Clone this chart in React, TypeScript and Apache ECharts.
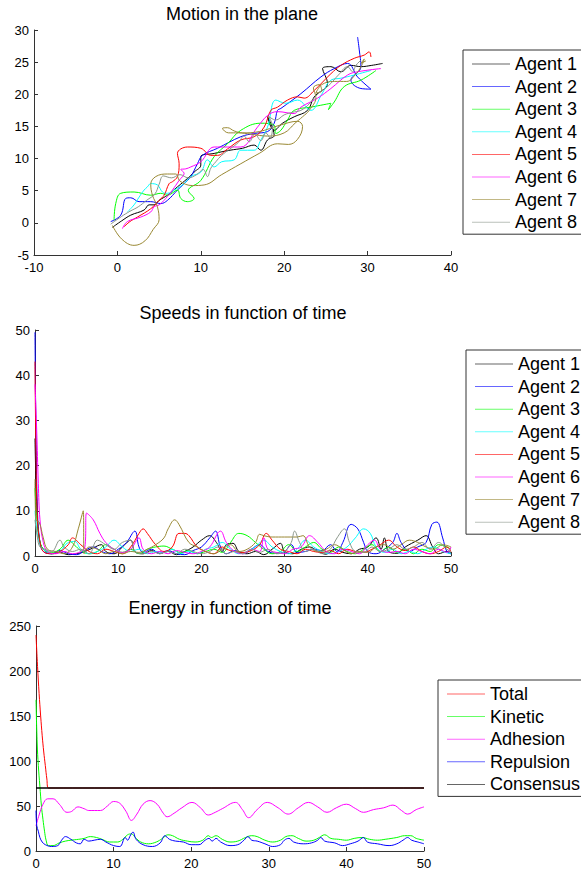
import React, { useEffect, useRef } from "react";
import * as echarts from "echarts";

const FONT = "Liberation Sans, Arial, Helvetica, sans-serif";

const AGENT_NAMES = ["Agent 1", "Agent 2", "Agent 3", "Agent 4", "Agent 5", "Agent 6", "Agent 7", "Agent 8"];
const AGENT_COLORS = ["#000000", "#0000ff", "#00ff00", "#00ffff", "#ff0000", "#ff00ff", "#998833", "#8a968a"];
const ENERGY_NAMES = ["Total", "Kinetic", "Adhesion", "Repulsion", "Consensus"];
const ENERGY_COLORS = ["#ff0000", "#00ff00", "#ff00ff", "#0000ff", "#000000"];

const PLANE_X_TICKS = [-10, 40, 10];
const PLANE_Y_TICKS = [-5, 30, 5];
const TIME_TICKS = [0, 50, 10];
const SPEED_TICKS = [0, 50, 10];
const ENERGY_TICKS = [0, 250, 50];

// Trajectories in the plane [x, y]
const PATH_1 = [[-0.6,-0.7],[0.5,0.3],[1.6,1.2],[3.2,2],[3.8,2.8],[4.4,2.8],[5,3.5],[6,4.3],[7.2,5.6],[8.4,6.9],[9.2,7.9],[10,9],[10,10.3],[11.6,10.8],[13.5,11.3],[15,11.6],[16.4,12.1],[17.2,11.3],[18,12.9],[18.8,13.6],[18,16.5],[18.8,14.4],[19.8,15.5],[21.2,16.5],[22.8,17.5],[23.6,19.6],[25.2,21.7],[24.6,24],[25.6,24.3],[26.8,23.5],[28,24.5],[29.2,24.3],[30.5,24.5],[31.8,24.8]];
const PATH_2 = [[-0.8,0.2],[0.4,1.2],[1,3.8],[1.6,3.9],[2.6,3.3],[4,3.3],[5.2,3],[6,3.5],[7.2,5.1],[8,6.1],[8.8,7.2],[9.6,9.2],[10.2,10.5],[12,11.6],[14.8,13.4],[16.4,13.9],[18,14.2],[18.8,15.5],[19.2,17.5],[19.6,17.8],[22,20.1],[24.4,22.7],[26,24],[27.6,24.8],[28.8,22.7],[30.4,20.8],[29.2,20.9],[28,22.2],[29.2,24.3],[29,26.9],[28.8,28.9]];
const PATH_3 = [[-0.4,0.4],[-0.2,3],[0.4,4.6],[2,4.8],[4,4.3],[5.2,4.6],[6,4.3],[7.2,5.1],[7.6,3.8],[8.4,3.3],[9.2,3.8],[8.5,5],[10,6.6],[11.6,10.3],[13.2,12.3],[14.8,14.4],[17.2,15.5],[18.8,15.2],[19,13.9],[19.6,14.4],[20.4,16],[21.2,17.5],[23.2,18],[25.6,18.6],[25.3,17.6],[26,18.8],[27.2,21.2],[29.2,22.2],[31,23.7]];
const PATH_4 = [[1.2,1.7],[2,2.8],[2.6,4],[3.2,5.1],[3.6,5.6],[4,6.1],[4.8,5.9],[5.4,4.8],[6,4.6],[6.8,5.1],[8,6.1],[8.8,7.2],[10,7.9],[10.8,9.8],[11.6,8.7],[12.5,9.5],[14,9.8],[14.8,11.3],[16.4,11.3],[17.2,12.9],[18,14.9],[19,19.1],[20.2,18.6],[21.6,19.1],[23.2,17.5],[24.5,20],[25.6,22.2],[26.8,22.5],[28.4,23],[30.4,23.7]];
const PATH_5 = [[0.8,-0.6],[1.5,0.2],[2.4,0.9],[4,2.2],[5,3.5],[5.6,4.3],[6.2,6.1],[6.6,6.4],[7.2,7.2],[7.4,9.2],[7.2,10.8],[8.4,11.8],[10,11.6],[11.2,10.5],[12,10.5],[13.2,11.5],[14.8,12.9],[16.4,13.4],[17.6,14.9],[18.4,17.5],[19.2,18],[20.4,19.1],[21.6,19.6],[22.4,19.4],[23.6,20.6],[25.6,23.2],[26.8,24.5],[28.4,25.6],[29.6,26.1],[30.2,26.6],[30.4,25.8]];
const PATH_6 = [[0.6,-0.9],[1.2,0.2],[2.8,0.9],[4,1.7],[4.4,2.5],[5,2.8],[5.8,3.8],[6.6,5.1],[7.4,6.6],[8,7.7],[7.6,8.3],[8.2,8.4],[8.8,8.7],[10,9.5],[11.6,11.8],[13.2,11.8],[14.8,11.8],[16.8,14.9],[18,16.7],[19.2,17.3],[21.2,17],[22,18],[24,19.4],[25.6,20.9],[27.6,23],[28.8,23.5],[31.6,24]];
const PATH_7 = [[-0.6,-0.4],[0.5,-2.5],[2,-3.5],[3.3,-2.8],[4.3,-1],[5,0.5],[4.8,2.5],[4.2,4.3],[4,6],[4.6,7.2],[6,7.6],[7,7.6],[7.5,6.5],[9,5.8],[10.4,5.9],[12.5,7.5],[14.8,9.2],[17,10.8],[19.2,12.3],[20.5,12.2],[21.6,13],[22.2,15],[21.6,15.8],[19.5,15.2],[17,14.2],[15,14],[14,14.3],[13.2,14.8],[12.6,14.7],[13.3,14],[14.5,14],[16,13.8],[18,13.5],[20,14],[21.3,15.5],[22.2,16.5],[23,17.5],[23.8,19.5],[23.5,21],[24.2,21.5],[24.5,20.5],[23.8,20.2],[24.5,21.5],[26,22],[27.5,22],[28.5,23],[29.3,24.5],[29.6,25.5],[29.2,24.8],[29.8,25.2]];
const PATH_8 = [[-0.8,-0.2],[0.5,1],[1.5,1.8],[2.5,2.5],[3.5,3.5],[4.5,4.5],[5,6],[5.5,7.3],[6.5,7],[7.5,7.5],[8.5,7],[9.5,7.5],[10.3,8.3],[10.8,7.2],[11.2,8.5],[11.8,9.5],[12.5,10.5],[13.5,11.5],[14.5,12.5],[15.2,13.5],[15.8,12.6],[16.5,13.8],[17.2,12.8],[17.8,14],[18.3,13.2],[18.6,15],[18.1,16.6],[19,16],[20,16.8],[21,17.2],[22,17.5],[23,18.5],[24,20],[25,21],[25.6,21.7],[26.5,23],[27.6,24.3],[28.2,23.5],[28.6,24.5],[29.2,25.3]];
const PATHS = [PATH_1, PATH_2, PATH_3, PATH_4, PATH_5, PATH_6, PATH_7, PATH_8];

// Speeds [t, v]
const SPEED_1 = [[0,26],[0.2,12],[0.5,4],[1,1.5],[2,0.5],[3,0.8],[4,0.3],[5,0.5],[6,1],[7,1.8],[8,2.5],[8.5,1],[9.5,0.5],[10.5,2],[11.5,3.5],[12,1],[13,0.5],[14,1.2],[15,0.6],[16,1],[17,0.3],[18,1],[19,2],[20,3.5],[21,4.5],[21.8,3],[22.5,1],[23,2.5],[23.8,2.8],[24.5,1],[25.5,0.5],[26.5,1],[27.5,0.3],[28.5,1.5],[29.5,2.8],[30,1],[31,0.5],[32,1.5],[33,2],[34,1],[35,0.4],[36,1.5],[37,0.8],[38,0.5],[39,1.5],[40,2],[41,4],[41.6,1.5],[42,4],[42.5,1],[43.5,0.6],[44.5,2],[46,3.5],[47,4.5],[47.8,2],[48.5,0.5],[49.5,1],[50,0.8]];
const SPEED_2 = [[0,49.5],[0.1,30],[0.3,10],[0.6,3],[1,1],[2,0.5],[3,1.2],[4,0.5],[5,0.3],[6,1.2],[7,2],[8,1],[9,0.5],[10,1.5],[11,3],[12,5.5],[12.5,2],[13,0.8],[14,1.5],[15,0.5],[16,1.2],[17,0.5],[18,0.3],[19,1.2],[20,2],[21,4],[21.7,5.5],[22.3,2],[23,0.5],[24,1.2],[25,0.5],[26,1.5],[27,2.5],[28,1],[29,0.6],[30,1],[30.8,2.5],[31.5,0.8],[32.5,1],[33.5,1.5],[34.5,1.2],[35.5,2.5],[36.3,1],[37,3],[38,7],[38.8,6],[39.5,3],[40,1],[41,0.5],[42,1.5],[43,3],[43.5,5],[44,3],[45,1],[46,2],[47,3],[47.7,7],[48.3,7.5],[49,4],[49.5,1],[50,0.5]];
const SPEED_3 = [[0,15],[0.2,9],[0.5,4],[1,1.5],[2,0.8],[3,1.5],[4,3.5],[4.7,2.5],[5.5,1.2],[6.5,0.5],[7.5,1],[8.5,2.5],[9.5,1.5],[10.5,0.8],[11.5,1.5],[12.5,0.5],[13.5,1.5],[14.5,2],[15.5,2.2],[16.5,1.5],[17.5,0.8],[18.5,1.2],[19.5,0.5],[20.5,1],[21.5,1.5],[22.5,0.8],[23.5,3],[24.5,5],[25.5,4.5],[26.5,3],[27.5,1.5],[28.5,0.5],[29.5,1],[30.5,2.5],[31.5,1],[32.5,2],[33.5,3],[34.5,1.5],[35.5,0.8],[36.5,2],[37.5,1],[38.5,0.5],[39.5,1.5],[40.5,2.5],[41.5,1],[42.5,2],[43.5,0.8],[44.5,1.5],[45.5,0.5],[46.5,1.5],[47.5,1],[48.5,2.5],[49.5,2],[50,1.5]];
const SPEED_4 = [[0,10],[0.2,6],[0.5,3],[1,1.5],[2,0.5],[3,1],[4,3],[4.8,3.2],[5.5,1.5],[6.5,0.5],[7.5,1],[8.5,2],[9.5,3.5],[10.5,2],[11.5,1],[12.5,1.5],[13.5,0.5],[14.5,1],[15.5,0.8],[16.5,1.5],[17.5,0.5],[18.5,1],[19.5,0.5],[20.5,1.5],[21.5,2],[22.5,3],[23.5,1.5],[24.5,0.5],[25.5,1],[26.5,2],[27.5,3.5],[28.5,2],[29.5,1],[30.5,0.5],[31.5,1.5],[32.5,3.5],[33.5,2],[34.5,1],[35.5,0.5],[36.5,1],[37.5,2],[38.5,4],[39.5,6],[40.3,5],[41,2],[42,0.8],[43,1.5],[44,0.5],[45,1],[46,0.5],[47,1.5],[48,2],[49,1],[50,0.5]];
const SPEED_5 = [[0,43],[0.1,25],[0.3,8],[0.6,3],[1,1],[2,0.5],[3,1],[4,2.5],[4.5,4],[5.5,2.5],[6.5,1],[7.5,0.5],[8.5,1.5],[9.5,1],[10.5,0.5],[11.5,2],[12.5,5],[13,6],[13.5,5],[14.5,2.5],[15.5,1],[16.5,2],[17.3,5],[18,5],[18.5,4.5],[19.5,2],[20.5,1],[21.5,0.5],[22.5,2],[23,1.5],[24,1],[25,0.8],[26,1.2],[27,2.5],[27.8,5],[28.5,3.5],[29.5,1.5],[30.5,1],[31.5,0.5],[32.5,1.5],[33.5,1],[34.5,0.8],[35.5,1.2],[36.5,0.5],[37.5,1.5],[38.5,1],[39.5,0.8],[40.5,1.5],[41.5,2.5],[42.5,3.5],[43.5,2],[44.5,1.2],[45.5,2],[46.5,1],[47.5,0.5],[48.5,1],[49.5,2],[50,1]];
const SPEED_6 = [[0,38],[0.2,28],[0.4,16],[0.6,8],[1,3],[1.5,1],[2.5,0.5],[3.5,1],[4.5,0.5],[5.5,1],[6,2],[6.2,9.5],[7,8],[7.8,5],[8.5,3],[9.5,1.5],[10.5,0.8],[11.5,1.5],[12.5,4],[13,1.5],[14,0.5],[15,1],[16,0.5],[17,1.2],[18,0.8],[19,0.5],[20,1],[21,2],[22.3,5.5],[23,3],[24,1],[25,0.5],[26,1.5],[27,1],[27.5,4],[28,1.5],[29,0.8],[30,0.5],[31,1.5],[32,2],[33,4.5],[34,3],[35,1],[36,0.5],[37,1.5],[38,1],[39,0.5],[40,2.5],[40.8,3.5],[41.5,1.5],[42.5,0.8],[43.5,1],[44.5,0.5],[45.5,1.5],[46.5,1],[47.5,0.5],[48.5,1.5],[49.5,0.8],[50,2]];
const SPEED_7 = [[0,17],[0.1,8],[0.5,7.5],[1,4],[1.5,1.5],[2.5,1],[3.5,0.5],[4.5,2],[5.2,6],[5.8,10],[5.9,0.5],[6.5,2],[7.5,1.5],[8.5,0.5],[9.5,1],[10.5,0.5],[11.5,1],[12.5,0.8],[13.5,1.5],[14.5,2.5],[15.5,4],[16,6],[16.8,8],[17.3,7],[18.5,3],[19.5,2],[20.5,1],[21.5,0.5],[22.5,1.5],[23.5,2.5],[24.5,1],[25.5,1.5],[26.5,3],[27,4.8],[27.5,4.5],[28.5,4.2],[30,4.2],[31.5,4.2],[32.2,4.5],[33,2],[34,1],[35,1.5],[36,2.5],[37,1.5],[38,0.5],[39,1],[40,0.8],[41,2],[42,2.5],[43,1.5],[44,2.5],[45,3.5],[46,3],[47,2],[48,1.5],[49,2.5],[50,2]];
const SPEED_8 = [[0,8],[0.3,4],[0.6,2],[1.2,1.5],[2,1],[3,3.5],[3.5,2],[4.5,1],[5.5,1.5],[6.5,0.5],[7.5,3.5],[8.5,2.5],[9.5,1.5],[10.5,3],[11.5,3.5],[12,1],[13,0.5],[14,1],[15,0.5],[16,1],[17,0.5],[18,1.5],[19,1],[20,0.5],[21,1],[22,2],[23,0.5],[24,1],[25,0.5],[26,1.5],[27,0.8],[28,1.5],[29,0.5],[30,1],[30.8,3],[31.2,5.5],[31.8,3],[32.5,1],[33.5,1.5],[34.5,0.5],[35.5,1.5],[36.3,4],[37.2,6],[37.8,3],[38.5,1],[39.5,0.8],[40.5,2],[41.5,1],[42.5,1.5],[43.5,2.5],[44.5,1.5],[45.5,2],[46.5,3],[47.5,1.5],[48.5,3],[49.5,1.5],[50,1]];
const SPEEDS = [SPEED_1, SPEED_2, SPEED_3, SPEED_4, SPEED_5, SPEED_6, SPEED_7, SPEED_8];

// Energies [t, E]
const ENERGY_TOTAL = [[0,240],[0.2,205],[0.4,175],[0.6,150],[0.8,128],[1.0,110],[1.2,95],[1.4,80],[1.6,70],[50,70]];
const ENERGY_KINETIC = [[0,168],[0.15,120],[0.3,95],[0.5,72],[0.7,50],[0.9,35],[1.1,22],[1.3,12],[1.6,6],[2.2,6],[3,9],[3.8,11],[4.5,12],[5.5,13],[6.2,14],[7,16],[7.8,15],[8.5,13],[9.5,10],[10.5,10],[11.2,13],[11.8,18],[12.3,19],[12.8,15],[13.5,10],[14.5,8],[15.5,10],[16.3,14],[17,18],[17.6,17],[18.5,13],[19.5,11],[20.5,10],[21.5,12],[22.2,17],[22.6,15],[23.2,17],[24,13],[25,10],[26,11],[27,15],[27.8,17],[28.5,16],[29.5,12],[30.5,10],[31.5,12],[32.2,16],[33,17],[33.8,14],[34.8,11],[35.8,12],[36.5,15],[37.2,18],[38,14],[39,13],[40,12],[41,14],[42,15],[43,13],[44,12],[45,13],[46.5,15],[47.5,17],[48.3,17],[49,14],[50,12]];
const ENERGY_ADHESION = [[0,28],[0.4,40],[0.9,52],[1.5,58],[2.2,58],[3,52],[4,43],[4.6,44],[5.4,49],[6.2,47],[6.8,45],[8.3,45],[9.2,50],[10,55],[10.8,53],[11.6,44],[12.3,34],[13,41],[13.8,52],[14.7,56],[15.6,52],[16.4,42],[16.9,38],[17.8,42],[18.8,48],[20.1,54],[21.2,48],[22.2,40],[23.1,43],[24,47],[25.7,54],[26.6,46],[27.4,37],[28.5,46],[29.8,54],[31.2,48],[32.5,41],[33.8,48],[35.1,54],[36.3,49],[37.5,43],[38.7,48],[40,52],[41.2,47],[42.2,43],[43.5,46],[44.8,48],[46,51],[47.1,45],[47.9,41],[49,46],[50,49]];
const ENERGY_REPULSION = [[0,45],[0.1,28],[0.3,22],[0.5,15],[0.8,10],[1.2,7],[2,5],[2.8,6],[3.3,12],[3.8,16],[4.5,13],[5.2,9],[5.7,8],[6.2,13],[6.8,11],[7.5,12],[8.3,13],[9,10],[10,6],[10.8,5],[11.5,15],[11.8,12],[12.2,18],[12.5,21],[12.9,13],[13.8,7],[15,5],[16,9],[16.6,17],[17.2,13],[18,11],[19,10],[20,7],[21,7],[21.8,12],[22.3,14],[22.7,11],[23.2,14],[23.8,10],[25,6],[26,7],[26.8,12],[27.3,16],[27.8,12],[28.5,11],[29.5,8],[30.5,5],[31.5,7],[32,12],[32.6,14],[33.2,10],[34.5,8],[35.5,9],[36.3,12],[36.7,15],[37.2,11],[38.5,9],[39.5,6],[40.5,8],[41.5,11],[42.2,15],[42.7,10],[44,8],[45.5,6],[46.5,8],[47.3,12],[47.9,15],[48.4,12],[49.2,10],[50,8]];
const ENERGY_CONSENSUS = [[0,70],[50,70]];
const ENERGIES = [ENERGY_TOTAL, ENERGY_KINETIC, ENERGY_ADHESION, ENERGY_REPULSION, ENERGY_CONSENSUS];

const axisLabel = { color: "#000", fontSize: 13, fontFamily: FONT };
const axisLine = { show: true, onZero: false, lineStyle: { color: "#333", width: 1 } };
const axisTick = { show: true, inside: true, length: 4, lineStyle: { color: "#333" } };

function valueAxis(gridIndex: number, ticks: number[], isX: boolean) {
  return {
    type: "value",
    gridIndex,
    min: ticks[0],
    max: ticks[1],
    interval: ticks[2],
    axisLine,
    axisTick,
    splitLine: { show: false },
    axisLabel: { ...axisLabel, margin: isX ? 6 : 5 },
  };
}

function legendOf(names: string[], left: number, top: number) {
  return {
    data: names.map((n) => ({ name: n, icon: "rect" })),
    orient: "vertical",
    left,
    top,
    itemWidth: 38,
    itemHeight: 1,
    itemGap: 4.6,
    padding: [5, 14, 3, 9],
    borderColor: "#333",
    borderWidth: 1,
    selectedMode: false,
    itemStyle: { opacity: 0.6 },
    textStyle: { fontSize: 18, fontFamily: FONT, color: "#000", lineHeight: 18 },
  };
}

function titleOf(text: string, left: number, top: number) {
  return {
    text,
    left,
    top,
    textAlign: "center",
    padding: 0,
    textStyle: { fontSize: 18, fontWeight: "normal", fontFamily: FONT, color: "#000" },
  };
}

export default function App() {
  const ref = useRef<HTMLDivElement>(null);
  useEffect(() => {
    if (!ref.current) return;
    const chart = echarts.init(ref.current, null, { renderer: "svg" });
    const series: any[] = [];
    PATHS.forEach((p, i) => {
      series.push({
        type: "line", name: AGENT_NAMES[i], xAxisIndex: 0, yAxisIndex: 0, data: p,
        symbol: "none", smooth: 0.4, lineStyle: { width: 1, color: AGENT_COLORS[i] }, itemStyle: { color: AGENT_COLORS[i] },
      });
    });
    SPEEDS.forEach((s, i) => {
      series.push({
        type: "line", name: AGENT_NAMES[i], xAxisIndex: 1, yAxisIndex: 1, data: s,
        symbol: "none", smooth: 0.4, lineStyle: { width: 1, color: AGENT_COLORS[i] }, itemStyle: { color: AGENT_COLORS[i] },
      });
    });
    ENERGIES.forEach((e, i) => {
      series.push({
        type: "line", name: ENERGY_NAMES[i], xAxisIndex: 2, yAxisIndex: 2, data: e,
        symbol: "none", smooth: i === 4 ? false : 0.4,
        lineStyle: { width: i === 4 ? 1.5 : 1, color: ENERGY_COLORS[i] }, itemStyle: { color: ENERGY_COLORS[i] },
      });
    });
    chart.setOption({
      animation: false,
      backgroundColor: "#fff",
      title: [
        titleOf("Motion in the plane", 242, 5),
        titleOf("Speeds in function of time", 243, 304),
        titleOf("Energy in function of time", 230, 599),
      ],
      grid: [
        { left: 34, top: 30, width: 417, height: 225 },
        { left: 35, top: 330, width: 416, height: 226 },
        { left: 36, top: 626, width: 388, height: 225 },
      ],
      xAxis: [valueAxis(0, PLANE_X_TICKS, true), valueAxis(1, TIME_TICKS, true), valueAxis(2, TIME_TICKS, true)],
      yAxis: [valueAxis(0, PLANE_Y_TICKS, false), valueAxis(1, SPEED_TICKS, false), valueAxis(2, ENERGY_TICKS, false)],
      legend: [
        legendOf(AGENT_NAMES, 463, 50),
        legendOf(AGENT_NAMES, 466, 350),
        legendOf(ENERGY_NAMES, 438, 680),
      ],
      series,
    });
    return () => chart.dispose();
  }, []);
  return <div ref={ref} style={{ position: "absolute", left: 0, top: 0, width: 581, height: 876 }} />;
}
